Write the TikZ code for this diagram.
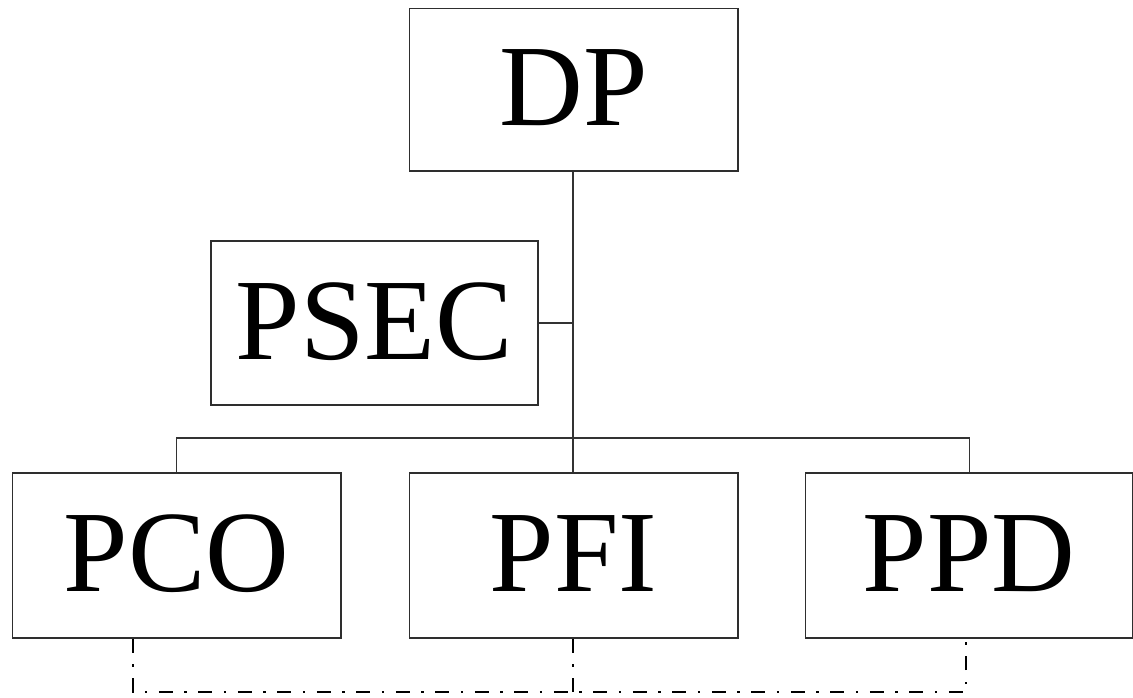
\documentclass[tikz,border=0pt]{standalone}
\usepackage{fontspec}
\setmainfont{Liberation Serif}
\newcommand{\unitname}[1]{\raisebox{4pt}{#1}}
\begin{document}
\begin{tikzpicture}[x=1pt,y=-1pt,
  unit/.style={draw=black!82, line width=1.5pt, rectangle, inner sep=0pt,
    font=\fontsize{116}{116}\selectfont},
  link/.style={draw=black!80, line width=1.1pt},
  dashdot/.style={draw=black, line width=2.2pt,
    dash pattern=on 14pt off 11.5pt on 2.5pt off 11.5pt}]
\useasboundingbox (0,0) rectangle (1133,698);

% units
\node[unit, minimum width=328.5pt, minimum height=162.5pt] (dp)   at (573.75,90)   {\unitname{DP}};
\node[unit, minimum width=327pt,   minimum height=164pt]   (psec) at (374.5,323)   {\unitname{PSEC}};
\node[unit, minimum width=328.5pt, minimum height=165pt]   (pco)  at (176.75,555.5) {\unitname{PCO}};
\node[unit, minimum width=328.5pt, minimum height=165pt]   (pfi)  at (573.75,555.5) {\unitname{PFI}};
\node[unit, minimum width=327.5pt, minimum height=165pt]   (ppd)  at (969.25,555.5) {\unitname{PPD}};

% hierarchy
\coordinate (bus) at (573,438);
\draw[link] (dp.south -| bus) -- (bus);
\draw[link] (psec.east) -- (psec.east -| bus);
\draw[link] (pco.north) |- (bus) -| (ppd.north);
\draw[link] (bus) -- (pfi.north -| bus);

% coordination links
\coordinate (base) at (133,692);
\draw[dashdot] (pco.south -| base) -- (base) -| ([xshift=-3pt]ppd.south);
\draw[dashdot] (pfi.south -| bus) -- (bus |- base);
\end{tikzpicture}
\end{document}
